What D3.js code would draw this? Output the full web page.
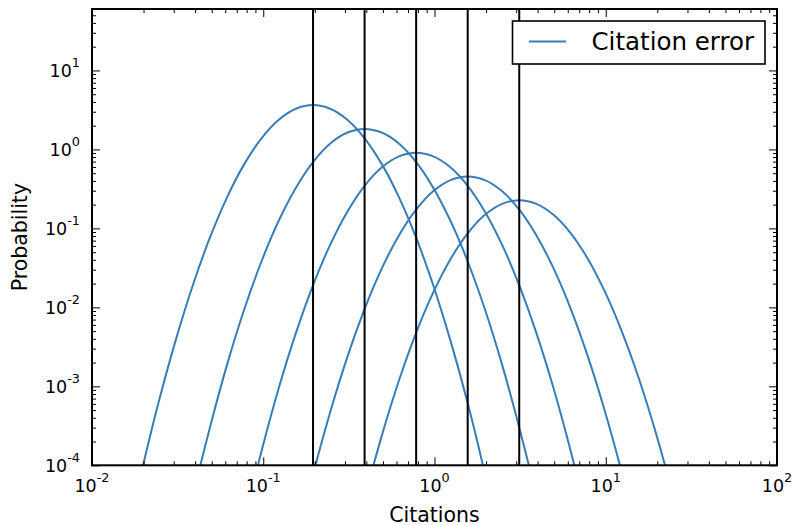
<!DOCTYPE html>
<html>
<head>
<meta charset="utf-8">
<script src="https://cdn.jsdelivr.net/npm/d3@7"></script>
<style>
  body { margin: 0; background: #fff; }
  text { font-family: "DejaVu Sans", sans-serif; fill: #000; }
</style>
</head>
<body>
<div id="chart"></div>
<script>
// bin edges (vertical lines)
var binEdges = [0.1953125, 0.390625, 0.78125, 1.5625, 3.125];

// citation error curves
var citX1 = [0.01551, 0.01953, 0.02459, 0.03095, 0.03897, 0.04906, 0.06176, 0.07775, 0.09788, 0.1232, 0.1551, 0.1953, 0.2459, 0.3095, 0.3897, 0.4906, 0.6176, 0.7775, 0.9788, 1.232, 1.551, 1.953, 2.459];
var prob1 = [9.1e-6, 8.5e-5, 6.5e-4, 3.96e-3, 0.0196, 0.0784, 0.253, 0.661, 1.394, 2.376, 3.271, 3.64, 3.271, 2.376, 1.394, 0.661, 0.253, 0.0784, 0.0196, 3.96e-3, 6.5e-4, 8.5e-5, 9.1e-6];

var citX2 = [0.03102, 0.03906, 0.04918, 0.0619, 0.07794, 0.09812, 0.1235, 0.1555, 0.1958, 0.2464, 0.3102, 0.3906, 0.4918, 0.619, 0.7794, 0.9812, 1.235, 1.555, 1.958, 2.464, 3.102, 3.906, 4.918];
var prob2 = [4.5e-6, 4.3e-5, 3.2e-4, 1.98e-3, 0.0098, 0.0392, 0.1266, 0.3305, 0.697, 1.188, 1.636, 1.82, 1.636, 1.188, 0.697, 0.3305, 0.1266, 0.0392, 0.0098, 1.98e-3, 3.2e-4, 4.3e-5, 4.5e-6];

var citX3 = [0.06204, 0.07812, 0.09836, 0.1238, 0.1559, 0.1962, 0.247, 0.311, 0.3915, 0.4928, 0.6204, 0.7812, 0.9836, 1.238, 1.559, 1.962, 2.47, 3.11, 3.915, 4.928, 6.204, 7.812, 9.836];
var prob3 = [2.3e-6, 2.1e-5, 1.6e-4, 9.9e-4, 0.0049, 0.0196, 0.0633, 0.1652, 0.3485, 0.594, 0.818, 0.91, 0.818, 0.594, 0.3485, 0.1652, 0.0633, 0.0196, 0.0049, 9.9e-4, 1.6e-4, 2.1e-5, 2.3e-6];

var citX4 = [0.1241, 0.1562, 0.1967, 0.2476, 0.3118, 0.3925, 0.4941, 0.622, 0.783, 0.9856, 1.241, 1.5625, 1.967, 2.476, 3.118, 3.925, 4.941, 6.22, 7.83, 9.856, 12.41, 15.62, 19.67];
var prob4 = [1.1e-6, 1.07e-5, 8.1e-5, 4.95e-4, 0.00245, 0.0098, 0.0316, 0.0826, 0.174, 0.297, 0.409, 0.455, 0.409, 0.297, 0.174, 0.0826, 0.0316, 0.0098, 0.00245, 4.95e-4, 8.1e-5, 1.07e-5, 1.1e-6];

var citX5 = [0.2482, 0.3125, 0.3934, 0.4952, 0.6235, 0.785, 0.9882, 1.244, 1.566, 1.971, 2.482, 3.125, 3.934, 4.952, 6.235, 7.85, 9.882, 12.44, 15.66, 19.71, 24.82, 31.25, 39.34];
var prob5 = [5.7e-7, 5.3e-6, 4.0e-5, 2.48e-4, 0.00123, 0.0049, 0.0158, 0.0413, 0.0871, 0.1485, 0.2044, 0.2275, 0.2044, 0.1485, 0.0871, 0.0413, 0.0158, 0.0049, 0.00123, 2.48e-4, 4.0e-5, 5.3e-6, 5.7e-7];

var xMajor = [1e-2, 1e-1, 1, 10, 100];
var xExp = ["-2", "-1", "0", "1", "2"];
var yMajor = [1e-4, 1e-3, 1e-2, 1e-1, 1, 10];
var yExp = ["-4", "-3", "-2", "-1", "0", "1"];

var width = 795, height = 525;
var pLeft = 92, pRight = 777, pTop = 9, pBottom = 465.3;
var blue = "#377eb8";

var x = d3.scaleLog().domain([1e-2, 1e2]).range([pLeft, pRight]);
var y = d3.scaleLog().domain([1e-4, 60]).range([pBottom, pTop]);

var svg = d3.select("#chart").append("svg")
    .attr("width", width)
    .attr("height", height);

svg.append("rect").attr("width", width).attr("height", height).attr("fill", "#fff");

svg.append("clipPath").attr("id", "plotclip")
  .append("rect")
    .attr("x", pLeft).attr("y", pTop)
    .attr("width", pRight - pLeft).attr("height", pBottom - pTop);

var plot = svg.append("g").attr("clip-path", "url(#plotclip)");

var line = d3.line()
    .x(function (d) { return x(d[0]); })
    .y(function (d) { return y(d[1]); })
    .curve(d3.curveCatmullRom.alpha(0.5));

var curves = [[citX1, prob1], [citX2, prob2], [citX3, prob3], [citX4, prob4], [citX5, prob5]];
curves.forEach(function (c) {
    plot.append("path")
        .attr("d", line(d3.zip(c[0], c[1])))
        .attr("fill", "none")
        .attr("stroke", blue)
        .attr("stroke-width", 2);
});

plot.selectAll(".edge").data(binEdges).enter().append("line")
    .attr("class", "edge")
    .attr("x1", function (d) { return x(d); })
    .attr("x2", function (d) { return x(d); })
    .attr("y1", y.range()[0]).attr("y2", y.range()[1])
    .attr("stroke", "#000")
    .attr("stroke-width", 2);

// ticks (inward, on all four sides)
var xMinor = x.ticks().filter(function (v) { return xMajor.indexOf(v) < 0; });
var yMinor = y.ticks().filter(function (v) { return yMajor.indexOf(v) < 0; });

function tickAxis(axisFn, scale, vals, size, transform) {
    var g = svg.append("g").attr("transform", transform)
        .call(axisFn(scale).tickValues(vals).tickSize(-size).tickFormat(""));
    g.select(".domain").remove();
    g.selectAll(".tick line").attr("stroke", "#000").attr("stroke-width", 1);
}
tickAxis(d3.axisBottom, x, xMajor, 8, "translate(0," + pBottom + ")");
tickAxis(d3.axisBottom, x, xMinor, 4, "translate(0," + pBottom + ")");
tickAxis(d3.axisTop, x, xMajor, 8, "translate(0," + pTop + ")");
tickAxis(d3.axisTop, x, xMinor, 4, "translate(0," + pTop + ")");
tickAxis(d3.axisLeft, y, yMajor, 8, "translate(" + pLeft + ",0)");
tickAxis(d3.axisLeft, y, yMinor, 4, "translate(" + pLeft + ",0)");
tickAxis(d3.axisRight, y, yMajor, 8, "translate(" + pRight + ",0)");
tickAxis(d3.axisRight, y, yMinor, 4, "translate(" + pRight + ",0)");

// frame
svg.append("rect")
    .attr("x", pLeft).attr("y", pTop)
    .attr("width", pRight - pLeft).attr("height", pBottom - pTop)
    .attr("fill", "none").attr("stroke", "#000").attr("stroke-width", 2);

// tick labels 10^n
xMajor.forEach(function (v, i) {
    var t = svg.append("text")
        .attr("x", x(v)).attr("y", pBottom + 26.5)
        .attr("text-anchor", "middle")
        .style("font-size", "17.5px");
    t.append("tspan").text("10");
    t.append("tspan").attr("dy", -9.5).style("font-size", "12.8px").text(xExp[i]);
});
yMajor.forEach(function (v, i) {
    var t = svg.append("text")
        .attr("x", pLeft - 12).attr("y", y(v) + 6.3)
        .attr("text-anchor", "end")
        .style("font-size", "17.5px");
    t.append("tspan").text("10");
    t.append("tspan").attr("dy", -9.5).style("font-size", "12.8px").text(yExp[i]);
});

// axis labels
svg.append("text")
    .attr("x", (pLeft + pRight) / 2).attr("y", 521.5)
    .attr("text-anchor", "middle")
    .style("font-size", "20.5px")
    .text("Citations");
svg.append("text")
    .attr("transform", "translate(27.3," + (pTop + pBottom) / 2 + ") rotate(-90)")
    .attr("text-anchor", "middle")
    .style("font-size", "20.5px")
    .text("Probability");

// legend
var lg = svg.append("g");
lg.append("rect")
    .attr("x", 512.5).attr("y", 21)
    .attr("width", 252.5).attr("height", 43)
    .attr("fill", "#fff").attr("stroke", "#000").attr("stroke-width", 1.6);
lg.append("line")
    .attr("x1", 529).attr("x2", 566).attr("y1", 41.5).attr("y2", 41.5)
    .attr("stroke", blue).attr("stroke-width", 2);
lg.append("text")
    .attr("x", 591.5).attr("y", 50)
    .style("font-size", "24.5px")
    .text("Citation error");
</script>
</body>
</html>
